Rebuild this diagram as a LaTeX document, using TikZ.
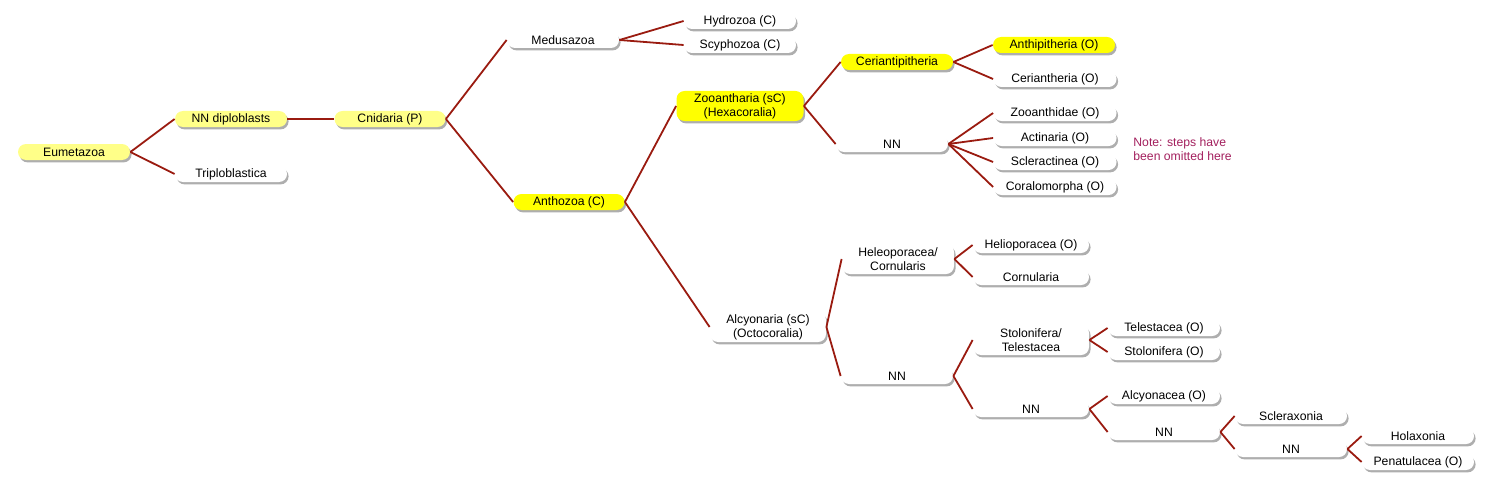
\documentclass[tikz,border=0pt]{standalone}
\usepackage{fontspec}
\setmainfont{Liberation Sans}
\usetikzlibrary{shadows}
\definecolor{edge}{HTML}{9A1B10}
\definecolor{pale}{HTML}{FFFF88}
\definecolor{bright}{HTML}{FFFF00}
\definecolor{note}{HTML}{A3205E}
\tikzset{
 box/.style={draw=none, fill=white, rounded corners=4pt, minimum width=#1*0.5pt, minimum height=8pt, inner sep=0.6pt, align=center,
   font=\fontsize{6.1}{7}\selectfont, drop shadow={opacity=0.45, shadow xshift=0.8pt, shadow yshift=-1.2pt, fill=black!70}},
 box/.default=112,
 pl/.style={fill=pale}, br/.style={fill=bright},
 ln/.style={draw=edge, line width=0.9pt}
}
\begin{document}
\begin{tikzpicture}[x=0.5pt,y=-0.5pt]
\useasboundingbox (0,0) rectangle (1492,492);
\node[box,pl] (eum) at (74,152) {Eumetazoa};
\node[box,pl] (nnd) at (231,119) {NN diploblasts};
\node[box] (tri) at (231,174) {Triploblastica};
\node[box,pl,minimum width=55.5pt] (cni) at (390,119) {Cnidaria (P)};
\node[box] (med) at (563,40) {Medusazoa};
\node[box,br,minimum width=55.5pt] (ant) at (569,202) {Anthozoa (C)};
\node[box] (hyd) at (740,21) {Hydrozoa (C)};
\node[box] (scy) at (740,45) {Scyphozoa (C)};
\node[box,br,minimum width=63.5pt,minimum height=15pt] (zoo) at (740,106) {Zooantharia (sC)\\(Hexacoralia)};
\node[box,minimum width=58pt,minimum height=15pt] (alc) at (768,327) {Alcyonaria (sC)\\(Octocoralia)};
\node[box,br] (cer) at (897,62) {Ceriantipitheria};
\node[box] (nn1) at (892,144) {NN};
\node[box,br,minimum width=61pt] (anp) at (1054,45) {Anthipitheria (O)};
\node[box,minimum width=61.5pt] (crt) at (1055,79) {Ceriantheria (O)};
\node[box,minimum width=61.5pt] (zan) at (1055,113) {Zooanthidae (O)};
\node[box,minimum width=61.5pt] (act) at (1055,138) {Actinaria (O)};
\node[box,minimum width=61.5pt] (scl) at (1055,162) {Scleractinea (O)};
\node[box,minimum width=61.5pt] (cor) at (1055,187) {Coralomorpha (O)};
\node[align=left, text=note, font=\fontsize{6.1}{7}\selectfont, anchor=west, inner sep=0pt] (nt) at (1133,149) {Note: steps have\\been omitted here};
\node[box,minimum height=15pt] (hel) at (898,259) {Heleoporacea/\\Cornularis};
\node[box] (nn2) at (897,376) {NN};
\node[box,minimum width=58pt] (hpo) at (1031,245) {Helioporacea (O)};
\node[box,minimum width=58pt] (crn) at (1031,277) {Cornularia};
\node[box,minimum width=58pt,minimum height=15pt] (sto) at (1031,340) {Stolonifera/\\Telestacea};
\node[box,minimum width=58pt] (nn3) at (1031,409) {NN};
\node[box] (tel) at (1164,328) {Telestacea (O)};
\node[box] (stf) at (1164,352) {Stolonifera (O)};
\node[box] (alo) at (1164,396) {Alcyonacea (O)};
\node[box] (nn4) at (1164,432) {NN};
\node[box] (scx) at (1291,416) {Scleraxonia};
\node[box] (nn5) at (1291,449) {NN};
\node[box] (hol) at (1418,436) {Holaxonia};
\node[box] (pen) at (1418,462) {Penatulacea (O)};
\foreach \a/\b in {eum/nnd,eum/tri,nnd/cni,cni/med,cni/ant,med/hyd,med/scy,ant/zoo,ant/alc,
  zoo/cer,zoo/nn1,cer/anp,cer/crt,nn1/zan,nn1/act,nn1/scl,nn1/cor,alc/hel,alc/nn2,hel/hpo,hel/crn,
  nn2/sto,nn2/nn3,sto/tel,sto/stf,nn3/alo,nn3/nn4,nn4/scx,nn4/nn5,nn5/hol,nn5/pen}
  \draw[ln] (\a.east) -- (\b.west);
\end{tikzpicture}
\end{document}
